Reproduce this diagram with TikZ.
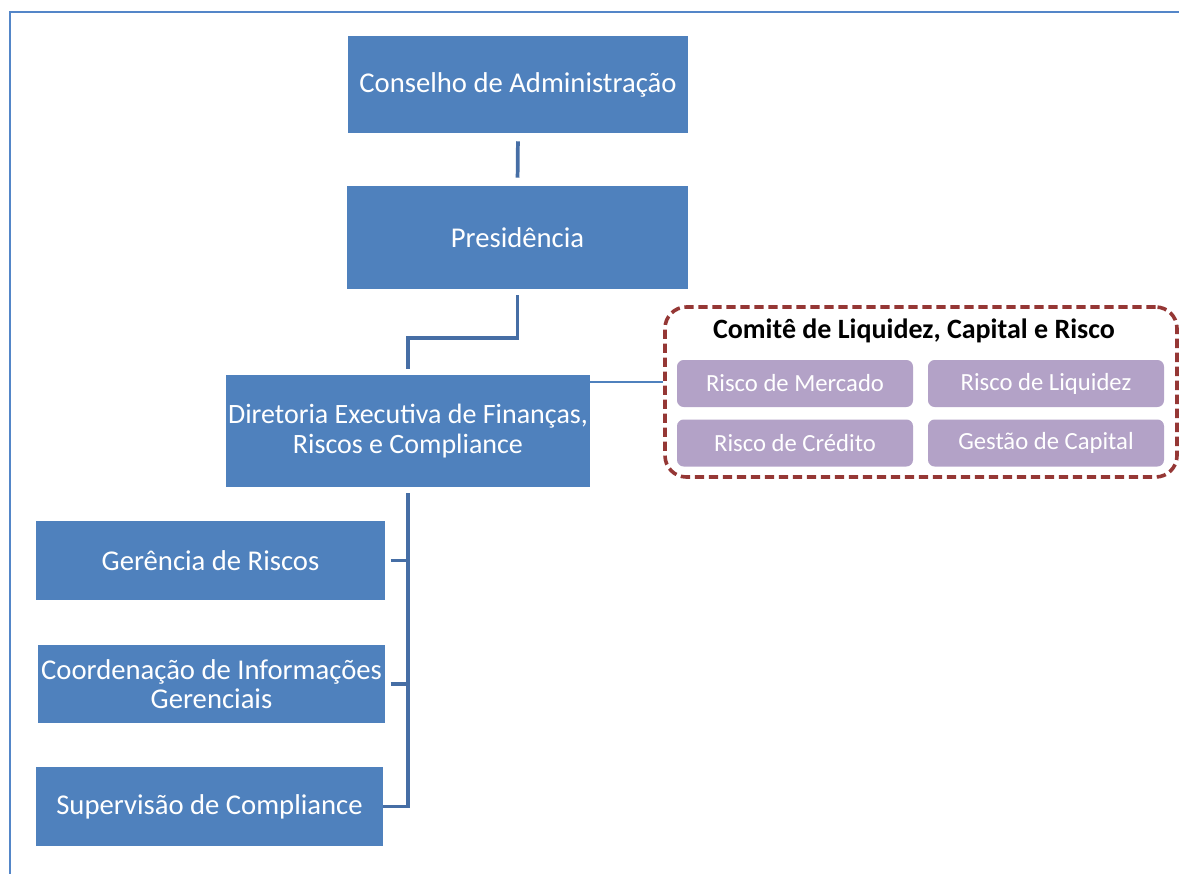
\documentclass[tikz,border=0pt]{standalone}
\usepackage{fontspec}
\setmainfont{Carlito}
\definecolor{boxblue}{RGB}{79,129,189}
\definecolor{lineblue}{RGB}{70,110,165}
\definecolor{framblue}{RGB}{84,134,200}
\definecolor{lilac}{RGB}{179,162,199}
\definecolor{darkred}{RGB}{149,55,53}
\tikzset{
  box/.style={draw=none, fill=boxblue, text=white, align=center, inner sep=0pt,
    font=\fontsize{21.5}{22}\selectfont},
  subbox/.style={draw=none, fill=lilac, text=white, rounded corners=5pt, inner sep=0pt,
    minimum width=177pt, minimum height=35.25pt, font=\fontsize{18.5}{20}\selectfont},
  committee/.style={draw=darkred, line width=2.7pt, dash pattern={on 7pt off 3.5pt},
    rounded corners=16pt, inner sep=0pt, minimum width=384pt, minimum height=127.5pt},
  conn/.style={draw=lineblue, line width=2.8pt},
}
\begin{document}
\begin{tikzpicture}[x=0.75pt,y=0.75pt,yscale=-1,xscale=1]
        \useasboundingbox (0,0) rectangle (1179,874);
        \draw [framblue, line width=1.8pt] (1179,12) -- (10,12) -- (10,874);
        % boxes of the chain
        \node [box, minimum width=255pt, minimum height=72.75pt] (conselho) at (518,84.5) {Conselho de Administração};
        \node [box, minimum width=255.75pt, minimum height=77.25pt] (presidencia) at (517.5,237.5) {Presidência};
        \node [box, minimum width=273pt, minimum height=84pt, font=\fontsize{21}{22}\selectfont] (diretoria) at (408,431) {Diretoria Executiva de Finanças,\\Riscos e Compliance};
        \node [box, minimum width=261.75pt, minimum height=59.25pt] (gerencia) at (210.5,560.5) {Gerência de Riscos};
        \node [box, minimum width=260.25pt, minimum height=58.5pt] (coordenacao) at (211.5,684) {Coordenação de Informações\\Gerenciais};
        \node [box, minimum width=260.25pt, minimum height=59.25pt] (supervisao) at (209.5,806.5) {Supervisão de Compliance};
        % committee
        \node [committee] (comite) at (921,392) {};
        \node [font=\fontsize{21}{22}\selectfont\bfseries] (titulo) at (914,331) {Comitê de Liquidez, Capital e Risco};
        \node [subbox] (mercado) at (795,383.5) {Risco de Mercado};
        \node [subbox] (liquidez) at (1046,383.5) {Risco de Liquidez};
        \node [subbox] (credito) at (795,443) {Risco de Crédito};
        \node [subbox] (capital) at (1046,443) {Gestão de Capital};
        % connectors
        \coordinate (elbow) at (0,338);
        \coordinate (linkstart) at (567,382);
        \draw [conn, shorten <=6pt, shorten >=6pt] (conselho.south) -- (presidencia.north);
        \draw [conn, shorten <=4.5pt, shorten >=4pt] (presidencia.south) -- (presidencia.south |- elbow) -| (diretoria.north);
        \draw [conn, shorten <=4.5pt] (diretoria.south) -- (diretoria.south |- supervisao.east) -- (supervisao.east);
        \draw [conn, shorten <=4pt] (gerencia.east) -- (gerencia.east -| diretoria.south);
        \draw [conn, shorten <=4pt] (coordenacao.east) -- (coordenacao.east -| diretoria.south);
        \draw [boxblue, line width=1.6pt] (linkstart) -- (linkstart -| comite.west);
    \end{tikzpicture}
\end{document}
